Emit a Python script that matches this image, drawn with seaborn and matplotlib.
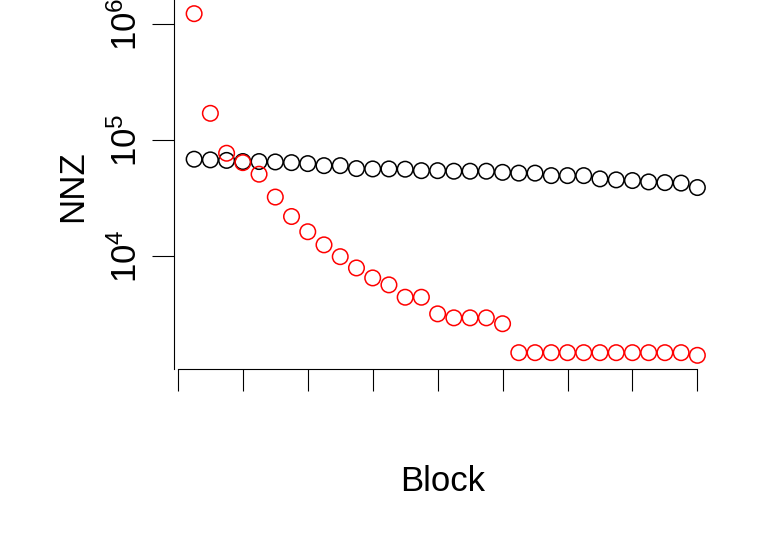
import numpy as np
import pandas as pd
import matplotlib
matplotlib.use("Agg")
import matplotlib.pyplot as plt
import seaborn as sns

# ---- data ----
blocks = list(range(1, 33))
nnz_black = [68200, 67300, 66600, 65100, 65100, 64600, 63700, 62500, 60000, 60000,
             56600, 56200, 56200, 55900, 54300, 54300, 53700, 53700, 53700, 52500,
             51700, 51700, 49200, 49200, 49200, 46100, 45200, 44600, 43400, 42800,
             42400, 38800]
nnz_red = [1236000, 170000, 76800, 63700, 50600, 32100, 21800, 16100, 12400, 9800,
           7830, 6420, 5590, 4370, 4370, 3140, 2900, 2900, 2900, 2580,
           1450, 1450, 1450, 1450, 1450, 1450, 1450, 1450, 1450, 1450,
           1450, 1375]
x_ticks = list(range(0, 33, 4))
y_ticks = [1e4, 1e5, 1e6]
y_tick_labels = [r"$\mathregular{10^{4}}$", r"$\mathregular{10^{5}}$", r"$\mathregular{10^{6}}$"]
x_label = "Block"
y_label = "NNZ"

df_black = pd.DataFrame({"Block": blocks, "NNZ": nnz_black})
df_red = pd.DataFrame({"Block": blocks, "NNZ": nnz_red})

sns.set_theme(style="white")
plt.rcParams["font.family"] = ["Liberation Sans", "DejaVu Sans"]
plt.rcParams["mathtext.fontset"] = "custom"
plt.rcParams["mathtext.rm"] = "Liberation Sans"
plt.rcParams["mathtext.it"] = "Liberation Sans:italic"
plt.rcParams["mathtext.bf"] = "Liberation Sans:bold"
plt.rcParams["text.color"] = "black"
plt.rcParams["axes.labelcolor"] = "black"
plt.rcParams["xtick.color"] = "black"
plt.rcParams["ytick.color"] = "black"
plt.rcParams["xtick.labelcolor"] = "black"
plt.rcParams["ytick.labelcolor"] = "black"

fig = plt.figure(figsize=(7.61, 5.44), dpi=100)
ax = fig.add_axes([174 / 761, (544 - 369) / 544, (717.5 - 174) / 761, 369 / 544])

sns.scatterplot(data=df_black, x="Block", y="NNZ", ax=ax, marker="o", s=125,
                facecolors="none", edgecolor="black", linewidth=1.1, legend=False)
sns.scatterplot(data=df_red, x="Block", y="NNZ", ax=ax, marker="o", s=125,
                facecolors="none", edgecolor="#FF0000", linewidth=1.1, legend=False)

ax.set_yscale("log")
# R-style 4% axis extension
xmin, xmax = min(blocks), max(blocks)
xr = xmax - xmin
ax.set_xlim(xmin - 0.04 * xr, xmax + 0.04 * xr)
allv = np.log10(np.array(nnz_black + nnz_red, dtype=float))
lo, hi = allv.min(), allv.max()
ax.set_ylim(10 ** (lo - 0.04 * (hi - lo)), 10 ** (hi + 0.04 * (hi - lo)))

ax.set_xticks(x_ticks)
ax.set_xticklabels([""] * len(x_ticks))
ax.set_yticks(y_ticks)
ax.set_yticklabels(y_tick_labels)
ax.yaxis.set_minor_locator(matplotlib.ticker.NullLocator())
ax.xaxis.set_minor_locator(matplotlib.ticker.NullLocator())

ax.tick_params(axis="both", direction="out", length=16, width=0.8, color="black",
               left=True, bottom=True)
ax.tick_params(axis="y", labelsize=25, pad=6, labelrotation=90, labelcolor="black")
for lab in ax.get_yticklabels():
    lab.set_verticalalignment("center")

for side in ["top", "right"]:
    ax.spines[side].set_visible(False)
for side in ["left", "bottom"]:
    ax.spines[side].set_color("black")
    ax.spines[side].set_linewidth(0.8)
ax.spines["bottom"].set_bounds(x_ticks[0], x_ticks[-1])

ax.set_xlabel(x_label, fontsize=25, color="black")
ax.set_ylabel(y_label, fontsize=25, color="black")
ax.xaxis.set_label_coords(0.495, -0.26)
ax.yaxis.set_label_coords(-0.156, 0.496)

fig.savefig("out.png", dpi=100)
